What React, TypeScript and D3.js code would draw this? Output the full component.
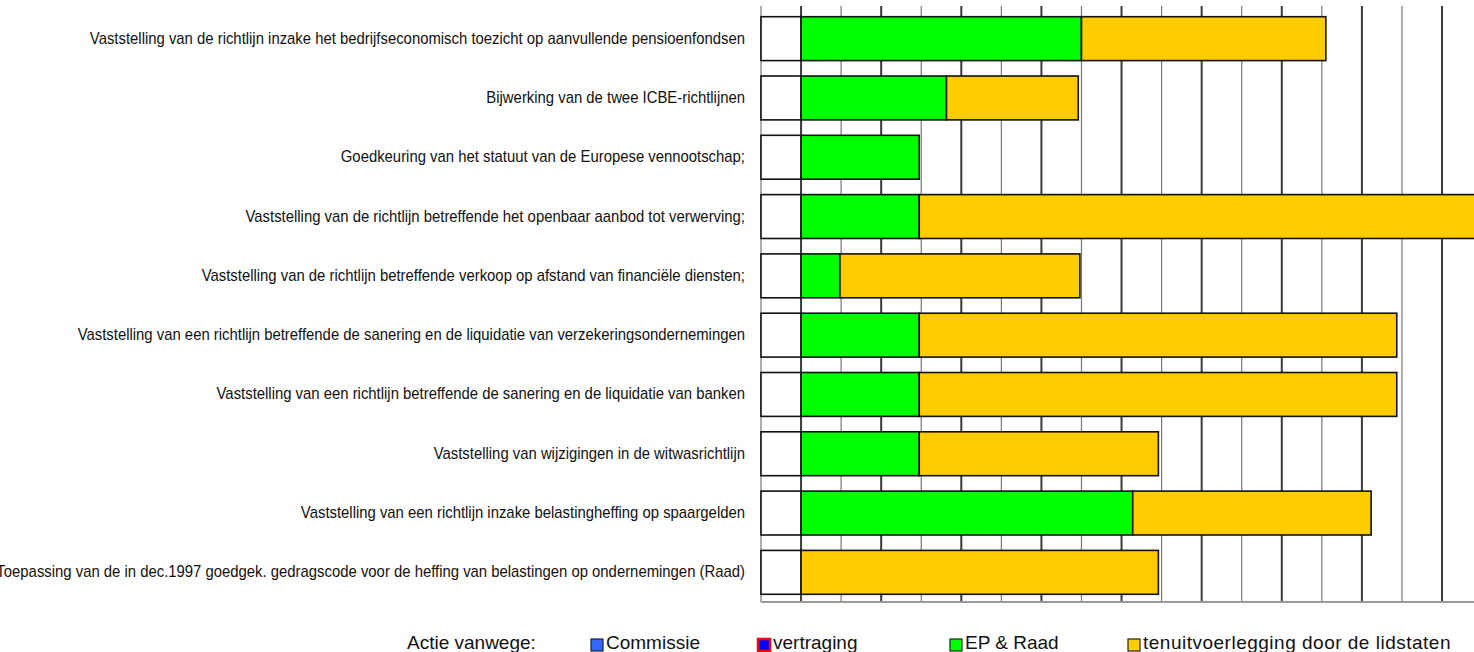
import React from "react";
import * as d3 from "d3";

// actions, top to bottom
const acties = [
  "Vaststelling van de richtlijn inzake het bedrijfseconomisch toezicht op aanvullende pensioenfondsen",
  "Bijwerking van de twee ICBE-richtlijnen",
  "Goedkeuring van het statuut van de Europese vennootschap;",
  "Vaststelling van de richtlijn betreffende het openbaar aanbod tot verwerving;",
  "Vaststelling van de richtlijn betreffende verkoop op afstand van financiële diensten;",
  "Vaststelling van een richtlijn betreffende de sanering en de liquidatie van verzekeringsondernemingen",
  "Vaststelling van een richtlijn betreffende de sanering en de liquidatie van banken",
  "Vaststelling van wijzigingen in de witwasrichtlijn",
  "Vaststelling van een richtlijn inzake belastingheffing op spaargelden",
  "Toepassing van de in dec.1997 goedgek. gedragscode voor de heffing van belastingen op ondernemingen (Raad)",
];

// duration per phase, in grid columns
const aanloop = [1, 1, 1, 1, 1, 1, 1, 1, 1, 1];
const epRaad = [7.0, 3.63, 2.95, 2.95, 0.97, 2.95, 2.95, 2.95, 8.28, 0];
const tenuitvoerlegging = [6.1, 3.29, 0, 15, 5.99, 11.92, 11.92, 5.97, 5.95, 8.92];

const legendLabels = ["Commissie", "vertraging", "EP & Raad", "tenuitvoerlegging door de lidstaten"];

const width = 1474;
const height = 652;

export default function App() {
  const x = d3.scaleLinear().domain([0, 18]).range([761, 761 + 18 * 40.06]);
  const y = d3
    .scaleBand<string>()
    .domain(acties)
    .range([9, 602])
    .paddingInner(0.26)
    .paddingOuter(0.13);

  const gridTicks = d3.range(0, 18);

  const rows = acties.map((a, i) => {
    const s0 = 0;
    const s1 = s0 + aanloop[i];
    const s2 = s1 + epRaad[i];
    const s3 = s2 + tenuitvoerlegging[i];
    return { a, segs: [
      { from: s0, to: s1, fill: "#FFFFFF" },
      { from: s1, to: s2, fill: "#00FF00" },
      { from: s2, to: s3, fill: "#FFCC00" },
    ] };
  });

  const legendX = [591, 758, 950, 1128];
  const legendFill = ["#3366FF", "#0000FF", "#00FF00", "#FFCC00"];
  const legendStroke = ["#222", "#FF0000", "#222", "#222"];

  return (
    <div style={{ position: "absolute", left: 0, top: 0 }}>
      <svg width={width} height={height} style={{ display: "block", background: "#fff" }}
        fontFamily="'Liberation Sans', Arial, sans-serif">
        {/* grid */}
        {gridTicks.map((t) => (
          <line key={t} x1={x(t)} x2={x(t)} y1={6} y2={602}
            stroke={t % 2 === 1 ? "#3a3a3a" : "#777"}
            strokeWidth={t % 2 === 1 ? 2 : 1.2} />
        ))}
        <line x1={761} x2={width} y1={602} y2={602} stroke="#999" strokeWidth={2} />

        {/* bars */}
        {rows.map((r) => (
          <g key={r.a}>
            {r.segs.filter((s) => s.to > s.from).map((s, j) => (
              <rect key={j}
                x={x(s.from)} y={y(r.a)!}
                width={x(s.to) - x(s.from)} height={y.bandwidth()}
                fill={s.fill} stroke="#111" strokeWidth={1.6} />
            ))}
            <text
              transform={`translate(745, ${y(r.a)! + y.bandwidth() / 2 + 5}) scale(0.93, 1)`}
              textAnchor="end" fontSize={16} fill="#111">
              {r.a}
            </text>
          </g>
        ))}

        {/* legend */}
        <text x={407} y={649} fontSize={19} fill="#111">Actie vanwege:</text>
        {legendLabels.map((l, i) => (
          <g key={l}>
            <rect x={legendX[i]} y={639} width={12} height={12}
              fill={legendFill[i]} stroke={legendStroke[i]} strokeWidth={i === 1 ? 2.5 : 1.2} />
            <text x={legendX[i] + 15} y={649} fontSize={19} fill="#111"
              letterSpacing={i === 3 ? 0.5 : 0}>{l}</text>
          </g>
        ))}
      </svg>
    </div>
  );
}
